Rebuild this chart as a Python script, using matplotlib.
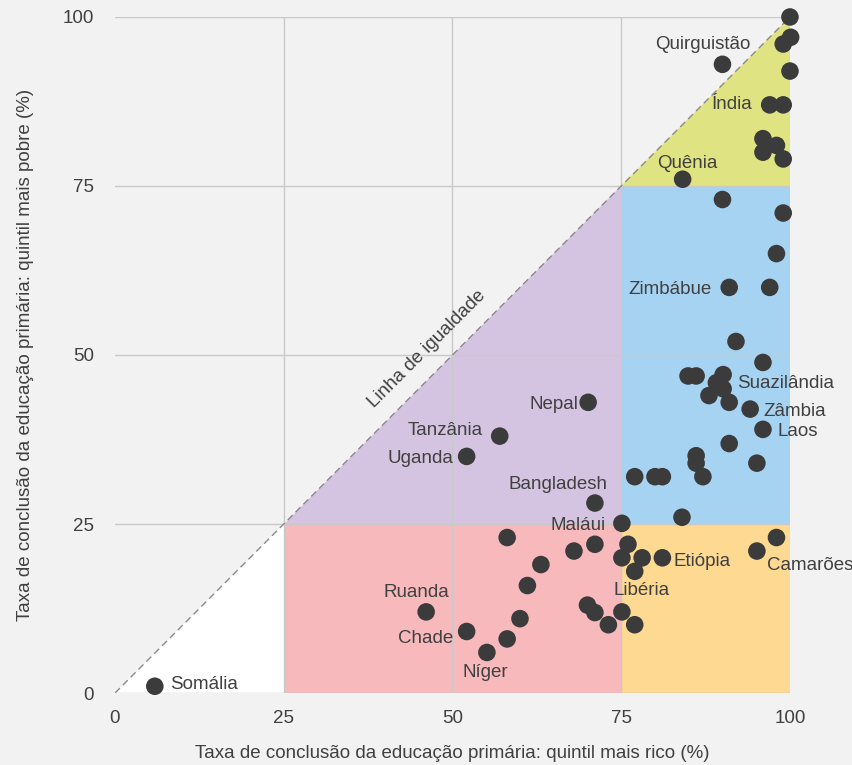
import matplotlib
matplotlib.use("Agg")
import matplotlib.pyplot as plt
from matplotlib.patches import Polygon

plt.rcParams['font.family'] = ['Liberation Sans', 'DejaVu Sans']

# quintil mais rico (x) vs quintil mais pobre (y), %
rico = [100, 100.1, 99, 100, 90,
        97, 99, 96, 98, 96, 99,
        84.1, 90, 99, 98, 91, 97,
        92, 96, 84.9, 86.1, 90.1, 89.1, 90.1, 88, 91, 94.1, 96, 91, 95.1,
        86.1, 86.1, 87.1, 77, 80, 81.1,
        70.1, 57, 52.1, 71.1, 84, 75.1,
        98, 95.1, 81.1, 78.1, 75.1, 76, 77,
        58.1, 68, 71.1, 63.1, 61.1, 46.1, 52.1, 55.1, 58.1, 60,
        70, 71.1, 73.1, 75.1, 77, 5.9]
pobre = [100, 97, 96, 92, 93,
         87, 87, 82, 81, 80, 79,
         76, 73, 71, 65, 60, 60,
         52, 48.9, 46.9, 46.9, 47.1, 45.9, 45, 44, 43, 42, 39, 36.9, 34,
         35.1, 34, 32, 32, 32, 32,
         43, 38, 35, 28.1, 26, 25.1,
         23, 21, 20, 20, 20, 22, 18,
         23, 21, 22, 19, 15.9, 12, 9.1, 6, 8, 11,
         13, 11.9, 10.1, 12, 10.1, 1]

# nomes: (texto, x, y, alinhamento)
nomes = [("Quirguistão", 94.1, 95.9, "right"),
         ("Índia", 94.4, 87.0, "right"),
         ("Quênia", 89.3, 78.4, "right"),
         ("Zimbábue", 88.4, 59.7, "right"),
         ("Suazilândia", 92.1, 45.8, "left"),
         ("Zâmbia", 96.0, 41.7, "left"),
         ("Laos", 98.1, 38.7, "left"),
         ("Nepal", 68.6, 42.7, "right"),
         ("Tanzânia", 54.5, 38.8, "right"),
         ("Uganda", 50.1, 34.7, "right"),
         ("Bangladesh", 65.7, 30.9, "center"),
         ("Maláui", 72.7, 24.8, "right"),
         ("Etiópia", 82.8, 19.5, "left"),
         ("Camarões", 96.6, 18.9, "left"),
         ("Libéria", 78.0, 15.2, "center"),
         ("Ruanda", 44.6, 14.9, "center"),
         ("Chade", 50.1, 8.1, "right"),
         ("Níger", 54.8, 3.1, "center"),
         ("Somália", 8.1, 1.3, "left")]

ticks = [0, 25, 50, 75, 100]

bg = "#f2f2f2"
txt = "#404040"
grid = "#c9c9c9"
fs = 13.5

fig = plt.figure(figsize=(8.53, 7.65), dpi=100, facecolor=bg)
ax = fig.add_axes([0.1348, 0.0941, 0.7913, 0.8837])
ax.set_facecolor(bg)
ax.set_xlim(0, 100)
ax.set_ylim(0, 100)

# zonas coloridas
zonas = [([(0, 0), (25, 0), (25, 25)], "#ffffff"),
         ([(25, 25), (75, 25), (75, 75)], "#d4c3e1"),
         ([(75, 75), (100, 75), (100, 100)], "#e0e381"),
         ([(25, 0), (75, 0), (75, 25), (25, 25)], "#f7b9bc"),
         ([(75, 25), (100, 25), (100, 75), (75, 75)], "#a6d3f2"),
         ([(75, 0), (100, 0), (100, 25), (75, 25)], "#fdd991")]
for pts, c in zonas:
    ax.add_patch(Polygon(pts, closed=True, facecolor=c, edgecolor="none", zorder=1))

# grade
for t in ticks:
    ax.plot([0, 100], [t, t], color=grid, lw=1, zorder=2)
for t in [25, 50, 75]:
    ax.plot([t, t], [0, 100], color=grid, lw=1, zorder=2)

# linha de igualdade
ax.plot([0, 100], [0, 100], color="#8a8a8a", lw=1, ls=(0, (5, 3)), zorder=3)
ax.text(46.2, 50.9, "Linha de igualdade", rotation=45, ha="center", va="center",
        fontsize=fs, color=txt, zorder=4)

ax.scatter(rico, pobre, s=160, color="#3b3b3b", edgecolors="none", zorder=5, clip_on=False)

for nome, x, y, ha in nomes:
    ax.text(x, y, nome, ha=ha, va="center", fontsize=fs, color=txt, zorder=6)

for s in ax.spines.values():
    s.set_visible(False)
ax.set_xticks(ticks)
ax.set_yticks(ticks)
ax.tick_params(length=0, labelsize=fs, labelcolor=txt)
ax.tick_params(axis="y", pad=15)
ax.tick_params(axis="x", pad=12)
ax.set_xlabel("Taxa de conclusão da educação primária: quintil mais rico (%)",
              fontsize=fs, color=txt, labelpad=13)
ax.set_ylabel("Taxa de conclusão da educação primária: quintil mais pobre (%)",
              fontsize=fs, color=txt, labelpad=21)

fig.savefig("out.png", dpi=100, facecolor=bg)
